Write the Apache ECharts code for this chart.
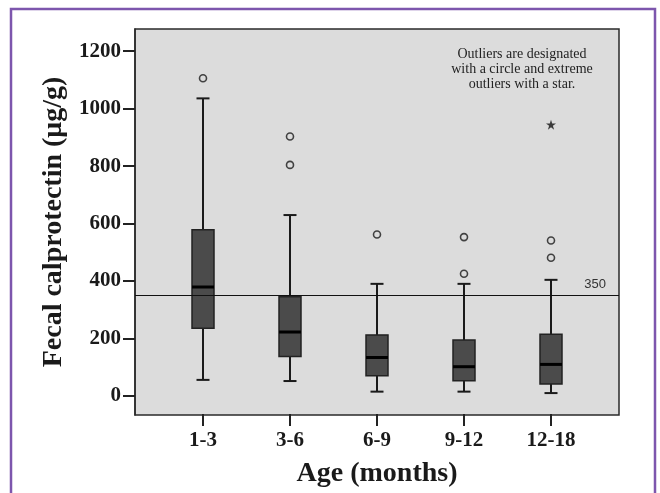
<!DOCTYPE html>
<html>
<head>
<meta charset="utf-8">
<script src="https://cdn.jsdelivr.net/npm/echarts@6/dist/echarts.min.js"></script>
<style>
  html, body { margin: 0; padding: 0; background: #fff; }
  #chart { width: 660px; height: 493px; }
</style>
</head>
<body>
<div id="chart"></div>
<script>
// age groups (months)
const categories = ["1-3", "3-6", "6-9", "9-12", "12-18"];
// box statistics, fecal calprotectin µg/g
const whiskerLow = [53, 49, 12, 12, 7];
const q1 = [233, 135, 67, 50, 39];
const median = [377, 220, 131, 99, 107];
const q3 = [577, 343, 210, 192, 212];
const whiskerHigh = [1035, 628, 388, 388, 402];
// [category index, value]
const outliers = [[0, 1105], [1, 902], [1, 803], [2, 560], [3, 551], [3, 423], [4, 539], [4, 479]];
const extremes = [[4, 943]];
const cutoff = 350;
const yTicks = [0, 200, 400, 600, 800, 1000, 1200];

const boxData = categories.map((c, i) => [i, whiskerLow[i], q1[i], median[i], q3[i], whiskerHigh[i]]);

const serif = "'Liberation Serif', 'DejaVu Serif', serif";
const chart = echarts.init(document.getElementById("chart"));

const renderBox = (params, api) => {
  const x = api.value(0);
  const lo = api.coord([x, api.value(1)]);
  const b1 = api.coord([x, api.value(2)]);
  const md = api.coord([x, api.value(3)]);
  const b3 = api.coord([x, api.value(4)]);
  const hi = api.coord([x, api.value(5)]);
  const cx = lo[0];
  const half = 11;
  const cap = 6.5;
  const ws = { stroke: "#1a1a1a", lineWidth: 2 };
  return {
    type: "group",
    children: [
      { type: "line", shape: { x1: cx, y1: hi[1], x2: cx, y2: b3[1] }, style: ws },
      { type: "line", shape: { x1: cx, y1: b1[1], x2: cx, y2: lo[1] }, style: ws },
      { type: "line", shape: { x1: cx - cap, y1: hi[1], x2: cx + cap, y2: hi[1] }, style: ws },
      { type: "line", shape: { x1: cx - cap, y1: lo[1], x2: cx + cap, y2: lo[1] }, style: ws },
      {
        type: "rect",
        shape: { x: cx - half, y: b3[1], width: half * 2, height: b1[1] - b3[1] },
        style: { fill: "#4b4b4b", stroke: "#222", lineWidth: 1.5 }
      },
      { type: "line", shape: { x1: cx - half, y1: md[1], x2: cx + half, y2: md[1] }, style: { stroke: "#000", lineWidth: 3 } }
    ]
  };
};

const option = {
  animation: false,
  backgroundColor: "#fff",
  graphic: [
    {
      type: "rect",
      shape: { x: 11, y: 9, width: 644, height: 500 },
      style: { fill: "none", stroke: "#7d56ad", lineWidth: 2.5 },
      silent: true
    },
    {
      type: "text",
      x: 522,
      y: 47,
      z: 10,
      style: {
        text: "Outliers are designated\nwith a circle and extreme\noutliers with a star.",
        fontFamily: serif,
        fontSize: 14,
        lineHeight: 15,
        fill: "#222",
        align: "center"
      }
    }
  ],
  grid: [
    {
      left: 135, right: 41, top: 29, bottom: 78,
      show: true, backgroundColor: "#dcdcdc", borderColor: "#2a2a2a", borderWidth: 1.5
    },
    { left: 159.5, right: 65.5, top: 29, bottom: 78 }
  ],
  xAxis: [
    { gridIndex: 0, type: "value", min: 0, max: 1, show: false },
    {
      gridIndex: 1,
      type: "category",
      data: categories,
      name: "Age (months)",
      nameLocation: "middle",
      nameGap: 46,
      nameTextStyle: { fontFamily: serif, fontWeight: "bold", fontSize: 28, color: "#1a1a1a" },
      axisLine: { show: false, onZero: false },
      axisTick: { show: true, alignWithLabel: true, length: 12, lineStyle: { color: "#222", width: 2 } },
      axisLabel: { fontFamily: serif, fontWeight: "bold", fontSize: 21, color: "#1a1a1a", margin: 16 },
      splitLine: { show: false }
    }
  ],
  yAxis: [
    {
      gridIndex: 0,
      type: "value",
      min: -66,
      max: 1277,
      name: "Fecal calprotectin (μg/g)",
      nameLocation: "middle",
      nameGap: 52,
      nameTextStyle: { fontFamily: serif, fontWeight: "bold", fontSize: 28, color: "#1a1a1a" },
      axisLine: { show: true, lineStyle: { color: "#2a2a2a", width: 1.5 } },
      axisTick: { show: true, length: 12, customValues: yTicks, lineStyle: { color: "#222", width: 2 } },
      axisLabel: {
        customValues: yTicks,
        formatter: (v) => String(v),
        fontFamily: serif, fontWeight: "bold", fontSize: 21, color: "#1a1a1a", margin: 14
      },
      splitLine: { show: false }
    },
    { gridIndex: 1, type: "value", min: -66, max: 1277, show: false, splitLine: { show: false } }
  ],
  series: [
    {
      type: "scatter",
      xAxisIndex: 0,
      yAxisIndex: 0,
      data: [],
      silent: true,
      markLine: {
        silent: true,
        symbol: "none",
        lineStyle: { color: "#111", width: 1, type: "solid" },
        label: {
          position: "insideEndTop",
          formatter: String(cutoff),
          fontFamily: "'Liberation Sans', sans-serif",
          fontSize: 13,
          color: "#333",
          padding: [0, 8, 0, 0]
        },
        data: [{ yAxis: cutoff }]
      }
    },
    {
      type: "custom",
      xAxisIndex: 1,
      yAxisIndex: 1,
      renderItem: renderBox,
      encode: { x: 0, y: [1, 2, 3, 4, 5] },
      data: boxData,
      z: 3
    },
    {
      type: "scatter",
      xAxisIndex: 1,
      yAxisIndex: 1,
      symbol: "circle",
      symbolSize: 7,
      itemStyle: { color: "transparent", borderColor: "#1a1a1a", borderWidth: 1.6 },
      data: outliers,
      z: 4
    },
    {
      type: "scatter",
      xAxisIndex: 1,
      yAxisIndex: 1,
      symbol: "path://M50,0 L61.8,35.4 L100,35.4 L69.1,57.3 L80.9,95.1 L50,72.4 L19.1,95.1 L30.9,57.3 L0,35.4 L38.2,35.4 Z",
      symbolSize: 10,
      itemStyle: { color: "#111" },
      data: extremes,
      z: 4
    }
  ]
};

chart.setOption(option);
</script>
</body>
</html>
